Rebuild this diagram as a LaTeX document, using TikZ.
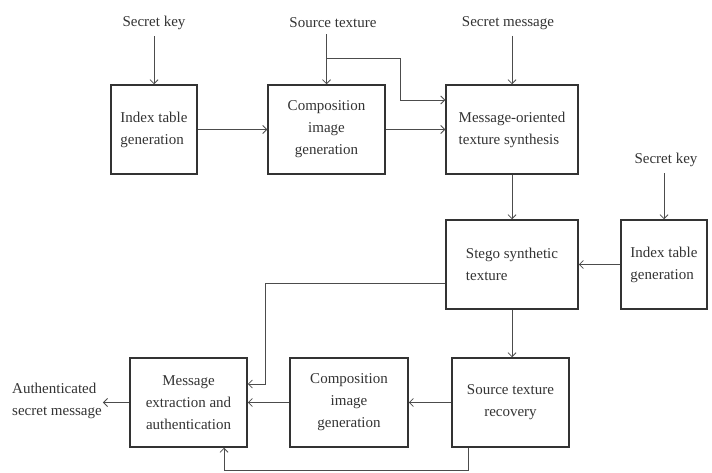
\documentclass[tikz,border=0pt]{standalone}
\usepackage{fontspec}
\setmainfont{Liberation Serif}
\usetikzlibrary{positioning,arrows.meta}

\tikzset{
  blk/.style={draw=black!80, line width=1.5pt, inner sep=0pt, minimum height=89pt, align=center, text=black!80},
  lbl/.style={text=black!80, inner xsep=1pt, inner ysep=6pt},
  conn/.style={draw=black!70, line width=0.8pt, -{Straight Barb[length=4pt,width=8pt]}},
}

\begin{document}
\begin{tikzpicture}[x=1pt,y=-1pt,font=\fontsize{15}{22}\selectfont]
  \useasboundingbox (0,0) rectangle (712,473);

  % top row
  \node [blk, minimum width=86pt, align=left] (idxA) at (154,129.5) {Index table\\generation};
  \node [blk, minimum width=117pt, right=69.5pt of idxA] (compA) {Composition\\image\\generation};
  \node [blk, minimum width=132pt, align=left, right=59.5pt of compA] (synth) {Message-oriented\\texture synthesis};

  % middle row
  \node [blk, minimum width=132pt, align=left, below=44.5pt of synth] (stego) {Stego synthetic\\texture};
  \node [blk, minimum width=86pt, align=left, right=41.5pt of stego] (idxB) {Index table\\generation};

  % bottom row
  \node [blk, minimum width=117pt, below=47.5pt of stego, xshift=-1.5pt] (recov) {Source texture\\recovery};
  \node [blk, minimum width=118pt, left=42.5pt of recov] (compB) {Composition\\image\\generation};
  \node [blk, minimum width=117pt, left=41.5pt of compB] (extr) {Message\\extraction and\\authentication};

  % inputs and output
  \node [lbl] (skA) at (154,23) {Secret key};
  \node [lbl] (srcT) at (333,23) {Source texture};
  \node [lbl] (smsg) at (508,23) {Secret message};
  \node [lbl] (skB) at (666,160) {Secret key};
  \node [lbl, align=left] (auth) at (57,401) {Authenticated\\secret message};

  \coordinate (brkA) at (400,58);
  \coordinate (brkB) at (400,100);
  \coordinate (brkC) at (265,283);
  \coordinate (brkD) at (265,384);
  \coordinate (brkE) at (468,470);
  \coordinate (brkF) at (224,470);

  \draw [conn] (skA.south -| idxA.north) -- (idxA.north);
  \draw [conn] (srcT.south -| compA.north) -- (compA.north);
  \draw [conn] (brkA -| compA.north) -- (brkA) -- (brkB) -- (brkB -| synth.west);
  \draw [conn] (smsg.south -| synth.north) -- (synth.north);
  \draw [conn] (skB.south -| idxB.north) -- (idxB.north);
  \draw [conn] (idxA) -- (compA);
  \draw [conn] (compA) -- (synth);
  \draw [conn] (synth.south) -- (synth.south |- stego.north);
  \draw [conn] (idxB) -- (stego);
  \draw [conn] (stego.south) -- (stego.south |- recov.north);
  \draw [conn] (brkC -| stego.west) -- (brkC) -- (brkD) -- (brkD -| extr.east);
  \draw [conn] (recov) -- (compB);
  \draw [conn] (compB) -- (extr);
  \draw [conn] (brkE |- recov.south) -- (brkE) -- (brkF) -- (brkF |- extr.south);
  \draw [conn] (extr.west) -- (extr.west -| auth.east);
\end{tikzpicture}
\end{document}
